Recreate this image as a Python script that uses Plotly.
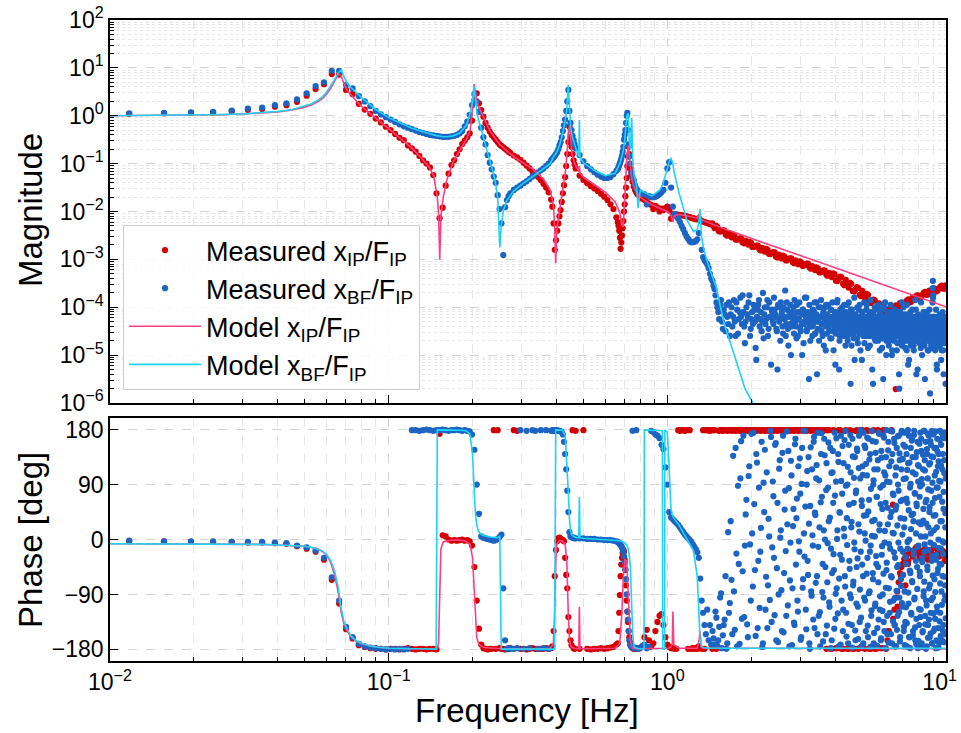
import numpy as np
import plotly.graph_objects as go

# ---------------------------------------------------------------------------
# Measured transfer functions (analyser bins, frequency resolution 1/256 Hz)
# magnitudes are given as log10 values, phases in degrees
# ---------------------------------------------------------------------------
DF_HZ = 1.0 / 256.0

bins_lo = ([3, 4, 5, 6, 7, 8, 9, 10, 11, 12, 13, 14, 15, 16, 17, 18, 19, 20, 21, 22, 23, 24, 25, 26, 27, 28, 29, 30,
            31, 32, 33, 34, 35, 36, 37, 38, 39, 40, 41, 42, 43, 44, 45, 46, 47, 48, 49, 50,
            51, 52, 53, 54, 55, 56, 57, 58, 59, 60, 61, 62, 63, 64, 65, 66, 67, 68, 69, 70]
           + [72, 74, 76, 78, 80, 82, 84, 86, 88, 90, 92, 94, 96, 98]
           + [99, 100, 101, 102, 103, 104, 105, 106, 107, 108, 109, 110, 111, 112, 113, 114, 115, 116, 117, 118, 119, 120]
           + [124, 128, 132, 136, 140, 144, 148, 152, 156, 160, 164, 168]
           + [170, 171, 172, 173, 174, 175, 176, 177, 178, 179, 180, 181, 182, 183, 184, 185, 186, 187, 188]
           + [190, 192, 194, 196, 198, 200]
           + [204, 208, 212, 216, 220, 224, 228, 232, 236, 240, 244, 248, 252, 256, 260, 264, 268, 272, 276, 280,
              284, 288, 292, 296, 300, 304, 308, 312, 316, 320, 324, 328, 332, 336, 340, 344, 348, 352, 356, 360,
              364, 368])

ip_mag_lo = ([0.04, 0.05, 0.06, 0.07, 0.09, 0.12, 0.14, 0.19, 0.22, 0.29, 0.42, 0.56, 0.66, 0.87, 0.86, 0.54, 0.45,
              0.25, 0.13, 0.04, -0.06, -0.14, -0.23, -0.30, -0.38, -0.46, -0.51, -0.62, -0.68, -0.75, -0.84, -0.93,
              -1.0, -1.08, -1.24, -1.62, -2.14, -1.92, -1.46, -1.21, -1.03, -0.93, -0.80, -0.70, -0.59, -0.52, -0.45,
              -0.37, -0.10, 0.33, 0.47, 0.26, 0.12, -0.02, -0.15, -0.25, -0.33, -0.40, -0.45, -0.50, -0.55, -0.60,
              -0.63, -0.66, -0.69, -0.72, -0.75, -0.78]
             + [-0.83, -0.87, -0.92, -0.98, -1.04, -1.10, -1.16, -1.22, -1.28, -1.34, -1.42, -1.50, -1.60, -1.75]
             + [-1.9, -2.25, -2.8, -2.6, -2.4, -2.25, -2.1, -1.97, -1.8, -1.62, -1.45, -1.28, -1.05, -0.8, -0.55,
                -0.23, -0.44, -0.65, -0.8, -0.93, -1.02, -1.1]
             + [-1.25, -1.34, -1.41, -1.47, -1.52, -1.57, -1.63, -1.69, -1.76, -1.85, -1.95, -2.12]
             + [-2.22, -2.3, -2.4, -2.55, -2.78, -2.65, -2.5, -2.35, -2.2, -2.0, -1.85, -1.68, -1.5, -1.3, -1.05,
                -0.85, -0.65, -0.8, -1.1]
             + [-1.25, -1.38, -1.48, -1.55, -1.6, -1.64]
             + [-1.70, -1.73, -1.76, -1.80, -1.84, -1.86, -1.95, -1.88, -1.92, -2.0, -1.94, -1.97, -1.93, -1.90,
                -1.98, -2.15, -2.05, -2.06, -2.06, -2.07, -2.07, -2.08, -2.08, -2.09, -2.1, -2.11, -2.12, -2.13,
                -2.14, -2.15, -2.16, -2.16, -2.14, -2.18, -2.2, -2.21, -2.22, -2.23, -2.24, -2.25, -2.26, -2.27])

ip_ph_lo = ([-3, -3, -4, -4, -4, -5, -5, -6, -7, -11, -15, -20, -33, -66, -105, -147, -162, -173, -176, -178, -179,
             -179, -180, -179, -179, -180, -179, -178,
             -179, -180, -179, -179, -180, -179, -179, -180,
             173, 7, 5, 0, -2, -1, -2, -1, 0, -2, -1, -3,
             -10, -45, -100, -146, -172, -178, -179, -180, -179, -179, 179, -179, 179, -178, -179, -179, -180,
             -179, -179, -178]
            + [179, 178, -179, -179, -180, -179, -178, -179, -179, -179, -179, -178, -179, -178]
            + [-175, -150, -60, -17, -3, 2, 3, 1, 0, -1, -3, -30, -58, -80, -127, -150, -165, -173, 179, -178,
               -179, 178]
            + [-179, 179, -179, -180, -179, -179, -178, -179, -178, -177, -176, -172]
            + [-170, -150, -120, -91, -60, -41, -30, -22, -17, -20, -33, -50, -75, -100, -118, -135, -150, -160,
               -168]
            + [-175, -178, -179, -179, -178, -179]
            + [-178, -175, -160, -148, -165, -175, -170, -150, -135, -125, -122, -140, -160, -172, -176, -178,
               -178, -179, -179, 179, 178, 179, 179, 178, 179, -179, 179, -179, -178, -179, -178, -179, -175,
               -178, -179, 179, -179, 179, 179, 179, 178, 179])

bf_mag_lo = ([0.05, 0.06, 0.07, 0.08, 0.11, 0.15, 0.17, 0.22, 0.26, 0.34, 0.47, 0.62, 0.70, 0.94, 0.94, 0.64, 0.57,
              0.41, 0.30, 0.20, 0.10, 0.03, -0.03, -0.08, -0.13, -0.18, -0.22, -0.25, -0.28, -0.31, -0.34, -0.36,
              -0.38, -0.40, -0.41, -0.42, -0.43, -0.44, -0.44, -0.44, -0.43, -0.42, -0.40, -0.37, -0.32, -0.22,
              -0.12, 0.02, 0.22, 0.45, 0.30, 0.08, -0.25, -0.45, -0.6, -0.82, -0.98, -1.12, -1.27, -1.40, -1.66,
              -1.95, -2.25, -2.91, -1.91, -1.76, -1.68, -1.62]
             + [-1.55, -1.50, -1.46, -1.41, -1.37, -1.32, -1.27, -1.22, -1.18, -1.14, -1.10, -1.05, -1.0, -0.93]
             + [-0.9, -0.87, -0.84, -0.8, -0.76, -0.7, -0.62, -0.55, -0.45, -0.32, -0.2, -0.08, 0.1, 0.3, 0.54,
                0.1, -0.15, -0.3, -0.42, -0.51, -0.6, -0.68]
             + [-0.82, -0.95, -1.05, -1.12, -1.18, -1.23, -1.27, -1.30, -1.30, -1.28, -1.22, -1.15]
             + [-1.12, -1.08, -1.04, -1.0, -0.95, -0.9, -0.84, -0.75, -0.65, -0.5, -0.4, -0.3, -0.15, 0.0, 0.06,
                -0.3, -0.6, -0.85, -1.0]
             + [-1.18, -1.28, -1.35, -1.45, -1.52, -1.56]
             + [-1.6, -1.63, -1.64, -1.85, -1.68, -1.70, -1.70, -1.69, -1.67, -1.64, -1.6, -1.55, -1.4, -1.1,
                -0.97, -1.5, -1.9, -2.05, -2.1, -2.15, -2.22, -2.3, -2.37, -2.45, -2.52, -2.57, -2.62, -2.64,
                -2.64, -2.63, -2.62, -2.58, -2.45, -2.2, -2.8, -2.95, -3.02, -3.06, -3.1, -3.18, -3.3, -3.4])

bf_ph_lo = ([-2, -3, -3, -3, -4, -4, -4, -5, -6, -10, -13, -18, -30, -62, -100, -143, -160, -171, -175, -177, -178,
             -179, -180, -179, -180, -179, -180, -179,
             179, 179, 178, 179, 180, 179, 178, 179, 179, 180, 179, 178, 179, 179, 180, 179, 178, 179, 178, 177,
             172, 147, 90, 42, 5, 3, 2, 1, 0, -1, -2, -1, 1, 4, 8, -80, -165, -179, -178, -179]
            + [-179, -178, 179, -179, 178, -178, 179, 178, -179, 179, -178, 179, -179, 178]
            + [179, 178, 179, 178, 179, 178, 178, 177, 176, 172, 160, 140, 115, 80, 45, 12, 5, 4, 3, 3, 2, 2]
            + [2, 2, 1, 1, 1, 0, 0, -1, -1, -1, -2, -3]
            + [-4, -5, -6, -7, -9, -11, -13, -16, -20, -28, -38, -49, -65, -90, -118, -131, -150, -165, -172]
            + [-176, 178, -178, -177, 179, -179]
            + [-178, -175, -172, -178, -176, 178, 176, 172, 170, 166, 155, 148, 118, 90, 45, 36, 33, 30, 27, 24,
               20, 16, 12, 8, 5, 2, -1, -4, -8, -12, -16, -21, -30, -64, -100, -120, -140, -155, -115, -165,
               -140, -172])

# high-frequency part of the measured x_BF/F_IP (noise floor): two interleaved sets of bins
bins_hi = [372, 378, 384, 390, 396, 402, 408, 414, 420, 426, 432, 438, 444, 450, 456, 462, 468, 474, 480, 486,
           492, 498, 504, 510, 516, 522, 528, 534, 540, 546, 552, 558, 564, 570, 576, 582, 588, 594, 600, 606,
           612, 618, 624, 630, 636, 642, 648, 654, 660, 666, 672, 678, 684, 690, 696, 702, 708, 714, 720, 726,
           732, 738, 744, 750, 756, 762, 768, 774, 780, 786, 792, 798, 804, 810, 816, 822, 828, 834, 840, 846,
           852, 858, 864, 870, 876, 882, 888, 894, 900, 906, 912, 918, 924, 930, 936, 942, 948, 954, 960, 966,
           972, 978, 984, 990, 996, 1002, 1008, 1014, 1020, 1026, 1032, 1038, 1044, 1050, 1056, 1062, 1068, 1074, 1080, 1086,
           1092, 1098, 1104, 1110, 1116, 1122, 1128, 1134, 1140, 1146, 1152, 1158, 1164, 1170, 1176, 1182, 1188, 1194, 1200, 1206,
           1212, 1218, 1224, 1230, 1236, 1242, 1248, 1254, 1260, 1266, 1272, 1278, 1284, 1290, 1296, 1302, 1308, 1314, 1320, 1326,
           1332, 1338, 1344, 1350, 1356, 1362, 1368, 1374, 1380, 1386, 1392, 1398, 1404, 1410, 1416, 1422, 1428, 1434, 1440, 1446,
           1452, 1458, 1464, 1470, 1476, 1482, 1488, 1494, 1500, 1506, 1512, 1518, 1524, 1530, 1536, 1542, 1548, 1554, 1560, 1566,
           1572, 1578, 1584, 1590, 1596, 1602, 1608, 1614, 1620, 1626, 1632, 1638, 1644, 1650, 1656, 1662, 1668, 1674, 1680, 1686,
           1692, 1698, 1704, 1710, 1716, 1722, 1728, 1734, 1740, 1746, 1752, 1758, 1764, 1770, 1776, 1782, 1788, 1794, 1800, 1806,
           1812, 1818, 1824, 1830, 1836, 1842, 1848, 1854, 1860, 1866, 1872, 1878, 1884, 1890, 1896, 1902, 1908, 1914, 1920, 1926,
           1932, 1938, 1944, 1950, 1956, 1962, 1968, 1974, 1980, 1986, 1992, 1998, 2004, 2010, 2016, 2022, 2028, 2034, 2040, 2046,
           2052, 2058, 2064, 2070, 2076, 2082, 2088, 2094, 2100, 2106, 2112, 2118, 2124, 2130, 2136, 2142, 2148, 2154, 2160, 2166,
           2172, 2178, 2184, 2190, 2196, 2202, 2208, 2214, 2220, 2226, 2232, 2238, 2244, 2250, 2256, 2262, 2268, 2274, 2280, 2286,
           2292, 2298, 2304, 2310, 2316, 2322, 2328, 2334, 2340, 2346, 2352, 2358, 2364, 2370, 2376, 2382, 2388, 2394, 2400, 2406,
           2412, 2418, 2424, 2430, 2436, 2442, 2448, 2454, 2460, 2466, 2472, 2478, 2484, 2490, 2496, 2502, 2508, 2514, 2520, 2526,
           2532, 2538, 2544, 2550, 2556]

bf_mag_hi = [-3.45, -3.62, -3.9, -4.1, -3.95, -4.3, -4.05, -4.5, -4.2, -3.9, -4.15, -4.4, -3.85, -4.6, -4.05, -4.25, -3.8, -4.35, -4.1, -4.75,
             -4.0, -4.2, -3.75, -4.45, -4.1, -3.95, -4.3, -5.1, -4.05, -3.85, -4.25, -4.5, -3.7, -4.15, -4.35, -4.0, -4.6, -3.9, -4.2, -4.05,
             -4.3, -3.8, -4.15, -4.45, -5.3, -4.0, -4.25, -3.9, -4.1, -4.55, -4.2, -3.65, -4.35, -4.05, -4.8, -4.15, -3.95, -4.4, -4.2, -4.0,
             -3.85, -4.3, -4.65, -4.1, -4.25, -3.9, -4.45, -4.15, -5.0, -4.05, -4.35, -3.8, -4.2, -4.5, -4.1, -4.3, -3.95, -4.7, -4.2, -4.4,
             -4.05, -4.25, -3.9, -4.55, -4.15, -5.4, -4.3, -4.0, -4.45, -4.2, -3.85, -4.35, -4.6, -4.1, -4.25, -4.0, -4.9, -4.3, -4.15, -3.95,
             -4.4, -4.2, -4.65, -4.05, -4.3, -3.9, -4.5, -4.25, -4.1, -5.2, -4.35, -4.15, -3.85, -4.45, -4.3, -4.7, -4.05, -4.2, -4.55, -4.0,
             -4.3, -4.45, -3.95, -4.2, -4.8, -4.1, -4.35, -4.6, -4.15, -3.9, -4.4, -4.25, -5.6, -4.3, -4.05, -4.5, -4.2, -4.65, -3.8, -4.35,
             -4.15, -4.5, -4.3, -4.0, -4.75, -4.25, -4.4, -3.95, -4.55, -4.2, -4.35, -5.1, -4.1, -4.45, -4.3, -3.9, -4.6, -4.25, -4.4, -4.05,
             -4.5, -4.2, -4.85, -4.35, -4.1, -4.6, -4.3, -3.85, -4.45, -4.25, -5.3, -4.4, -4.15, -4.55, -4.3, -4.0, -4.7, -4.35, -4.2, -4.5,
             -4.25, -4.6, -3.95, -4.4, -4.3, -4.9, -4.15, -4.5, -4.35, -4.05, -4.65, -4.3, -5.5, -4.2, -4.45, -4.35, -3.9, -4.55, -4.25, -4.7,
             -4.4, -4.1, -4.6, -4.3, -4.8, -4.2, -4.5, -4.35, -3.95, -4.6, -4.25, -5.0, -4.45, -4.3, -4.15, -4.7, -4.35, -4.5, -4.05, -4.4,
             -4.55, -4.3, -4.9, -4.2, -4.45, -4.35, -4.6, -4.1, -5.7, -4.4, -4.25, -4.65, -4.3, -4.5, -3.9, -4.75, -4.35, -4.2, -4.55, -4.4,
             -4.3, -4.6, -4.15, -4.85, -4.4, -4.25, -4.5, -3.95, -4.7, -4.35, -5.2, -4.45, -4.2, -4.6, -4.3, -4.5, -4.1, -4.8, -4.35, -4.25,
             -4.5, -4.05, -4.65, -4.4, -4.3, -4.9, -4.2, -4.55, -4.35, -3.85, -4.6, -4.45, -5.4, -4.25, -4.5, -4.3, -4.7, -4.15, -4.4, -4.55,
             -4.3, -4.75, -4.2, -4.5, -4.4, -3.9, -4.6, -4.35, -5.0, -4.45, -4.25, -4.65, -4.3, -4.55, -4.1, -4.8, -4.4, -4.2, -4.5, -4.35,
             -4.3, -4.15, -4.1, -4.6, -4.3, -4.9, -4.2, -4.45, -4.35, -4.7, -4.05, -4.5, -5.8, -4.3, -4.55, -4.2, -4.65, -4.4, -4.25, -4.85,
             -3.9, -3.45, -3.75, -4.45, -4.3, -4.75, -4.2, -4.55, -4.9, -4.35, -4.5, -4.05, -4.65, -4.3, -5.3, -4.45, -4.2, -4.6, -4.4, -4.25,
             -4.7, -4.35, -4.5, -4.15, -4.8, -4.3, -4.6, -4.4, -5.1, -4.25, -4.55, -4.35, -4.7, -4.1, -4.5, -4.9, -4.3, -4.45, -4.6, -4.2,
             -4.4, -4.75, -4.3, -5.6, -4.5]

bf_ph_hi = [-150, -172, -128, -165, -95, -178, -140, -60, -170, -120, 30, -155, -85, 150, -175, -40, 100, -130, 170, -10,
            65, -160, 120, -100, 10, 175, -50, 140, -145, 85, -20, 160, -170, 45, -115, 110, -75, 5, 178, -135,
            95, -30, 155, -165, 60, -90, 130, 15, -150, 170, -55, 80, -125, 25, 145, -175, -5, 105, -80, 50,
            -140, 165, 35, -100, 120, -20, 75, -160, 150, -65, 10, 178, -115, 90, -35, 135, -170, 55, -85, 115,
            -10, 160, -145, 40, 100, -60, 175, -125, 20, -175, 140, 70, -40, -95, 165, 0, -155, 125, -70, 85,
            30, -110, 150, -15, -165, 110, 60, -50, 175, -130, 95, -80, 15, 140, -175, 45, -25, 170, -100, 75,
            -150, 125, 5, -60, 178, -120, 35, 90, -170, 155, -35, -90, 110, 20, -140, 165, -75, 60, -5, 135,
            -165, 80, -45, 145, -110, 25, 170, -135, 100, -20, -175, 55, 120, -60, 175, -95, 10, 150, -150, 40,
            105, -30, -160, 165, 65, -85, 140, -10, -125, 178, 30, -55, 90, -170, 115, 5, -105, 160, -40, 70,
            -145, 130, -70, 175, 15, -115, 85, -165, 145, -25, 50, -90, 170, -135, 110, -5, -178, 60, 135, -50,
            95, -155, 25, 160, -80, 120, -120, -15, 178, -60, 45, -170, 140, 75, -100, 10, 165, -140, -30, 105,
            -175, 55, 150, -45, -125, 90, -5, 170, -95, 130, -160, 35, -65, 115, 178, -110, 65, -20, 155, -150,
            20, -85, 175, -135, 100, -40, 140, -175, 60, -15, 125, -105, 170, 0, -160, 85, -55, 150, -120, 40,
            165, -70, 110, -150, 30, -25, 178, -95, 75, -165, 135, 10, -130, 55, -45, 160, -178, 95, -10, 120,
            -140, 70, -60, 175, -115, 25, 145, -170, 90, -30, -150, 115, 50, -85, 178, -20, 130, -125, 5, 160,
            -100, 65, -175, 140, -50, 100, -140, 20, 170, -80, 45, -160, 125, -5, -120, 155, 80, -35, 178, -170,
            60, -95, 135, -150, 15, 175, -65, 105, -130, 40, -178, 150, -25, 85, -110, 165, -55, 120, -145, 0,
            140, -170, 70, -40, 178, -120, 95, -15, 155, -85, 30, -165, 115, -60, 170, -140, 50, -5, 130, -100,
            175, -75, 20, -155, 100]

bins_hi_b = [375, 381, 387, 393, 399, 405, 411, 417, 423, 429, 435, 441, 447, 453, 459, 465, 471, 477, 483, 489,
             495, 501, 507, 513, 519, 525, 531, 537, 543, 549, 555, 561, 567, 573, 579, 585, 591, 597, 603, 609,
             615, 621, 627, 633, 639, 645, 651, 657, 663, 669, 675, 681, 687, 693, 699, 705, 711, 717, 723, 729,
             735, 741, 747, 753, 759, 765, 771, 777, 783, 789, 795, 801, 807, 813, 819, 825, 831, 837, 843, 849,
             855, 861, 867, 873, 879, 885, 891, 897, 903, 909, 915, 921, 927, 933, 939, 945, 951, 957, 963, 969,
             975, 981, 987, 993, 999, 1005, 1011, 1017, 1023, 1029, 1035, 1041, 1047, 1053, 1059, 1065, 1071, 1077, 1083, 1089,
             1095, 1101, 1107, 1113, 1119, 1125, 1131, 1137, 1143, 1149, 1155, 1161, 1167, 1173, 1179, 1185, 1191, 1197, 1203, 1209,
             1215, 1221, 1227, 1233, 1239, 1245, 1251, 1257, 1263, 1269, 1275, 1281, 1287, 1293, 1299, 1305, 1311, 1317, 1323, 1329,
             1335, 1341, 1347, 1353, 1359, 1365, 1371, 1377, 1383, 1389, 1395, 1401, 1407, 1413, 1419, 1425, 1431, 1437, 1443, 1449,
             1455, 1461, 1467, 1473, 1479, 1485, 1491, 1497, 1503, 1509, 1515, 1521, 1527, 1533, 1539, 1545, 1551, 1557, 1563, 1569,
             1575, 1581, 1587, 1593, 1599, 1605, 1611, 1617, 1623, 1629, 1635, 1641, 1647, 1653, 1659, 1665, 1671, 1677, 1683, 1689,
             1695, 1701, 1707, 1713, 1719, 1725, 1731, 1737, 1743, 1749, 1755, 1761, 1767, 1773, 1779, 1785, 1791, 1797, 1803, 1809,
             1815, 1821, 1827, 1833, 1839, 1845, 1851, 1857, 1863, 1869, 1875, 1881, 1887, 1893, 1899, 1905, 1911, 1917, 1923, 1929,
             1935, 1941, 1947, 1953, 1959, 1965, 1971, 1977, 1983, 1989, 1995, 2001, 2007, 2013, 2019, 2025, 2031, 2037, 2043, 2049,
             2055, 2061, 2067, 2073, 2079, 2085, 2091, 2097, 2103, 2109, 2115, 2121, 2127, 2133, 2139, 2145, 2151, 2157, 2163, 2169,
             2175, 2181, 2187, 2193, 2199, 2205, 2211, 2217, 2223, 2229, 2235, 2241, 2247, 2253, 2259, 2265, 2271, 2277, 2283, 2289,
             2295, 2301, 2307, 2313, 2319, 2325, 2331, 2337, 2343, 2349, 2355, 2361, 2367, 2373, 2379, 2385, 2391, 2397, 2403, 2409,
             2415, 2421, 2427, 2433, 2439, 2445, 2451, 2457, 2463, 2469, 2475, 2481, 2487, 2493, 2499, 2505, 2511, 2517, 2523, 2529,
             2535, 2541, 2547, 2553]

bf_mag_hi_b = [-3.55, -3.75, -4.0, -4.25, -3.85, -4.45, -4.15, -3.95, -4.35, -4.6, -4.0, -4.2, -4.3, -3.9, -4.55, -4.1, -4.2, -3.75, -4.4, -4.3,
               -4.15, -3.9, -4.6, -4.25, -4.35, -4.05, -4.85, -4.2, -3.95, -4.4, -4.1, -4.3, -4.65, -4.0, -4.25, -3.85, -4.45, -4.2, -5.2, -4.1,
               -4.35, -4.05, -4.2, -4.5, -3.95, -4.3, -4.7, -4.15, -4.4, -4.0, -4.25, -4.6, -3.9, -4.45, -4.2, -4.35, -5.0, -4.1, -4.3, -4.55,
               -4.2, -4.4, -3.95, -4.6, -4.25, -4.1, -4.5, -4.35, -4.05, -4.75, -4.3, -4.15, -3.8, -4.45, -4.25, -5.5, -4.4, -4.1, -4.3, -4.6,
               -4.35, -4.1, -4.55, -4.25, -3.9, -4.45, -4.3, -4.7, -4.2, -4.0, -4.5, -4.35, -4.15, -4.8, -4.25, -4.4, -3.95, -4.55, -4.3, -4.2,
               -4.5, -4.25, -4.05, -4.65, -4.35, -4.2, -4.9, -4.4, -4.1, -4.55, -4.3, -3.9, -4.45, -4.25, -5.3, -4.6, -4.35, -4.15, -4.5, -4.3,
               -4.25, -4.6, -4.4, -4.1, -4.5, -4.3, -3.95, -4.7, -4.35, -4.2, -4.55, -4.45, -4.05, -4.8, -4.3, -4.15, -4.6, -4.4, -5.1, -4.25,
               -4.45, -4.3, -4.65, -4.2, -4.4, -4.05, -4.55, -4.35, -4.9, -4.25, -4.5, -4.1, -4.4, -4.6, -4.3, -4.75, -4.2, -4.45, -4.35, -3.95,
               -4.6, -4.35, -4.2, -4.5, -4.4, -4.8, -4.25, -4.55, -4.1, -4.45, -4.3, -5.6, -4.5, -4.35, -4.65, -4.2, -4.4, -4.05, -4.55, -4.3,
               -4.4, -4.7, -4.25, -4.5, -4.35, -4.15, -4.6, -4.45, -4.3, -4.85, -4.2, -4.5, -4.4, -4.0, -4.65, -4.35, -4.25, -4.55, -5.0, -4.4,
               -4.3, -4.55, -4.45, -4.2, -4.7, -4.35, -4.5, -4.1, -4.6, -4.4, -4.3, -4.9, -4.25, -4.55, -4.45, -4.15, -4.65, -4.35, -4.5, -4.2,
               -4.45, -4.6, -4.3, -4.75, -4.4, -4.2, -4.55, -5.4, -4.35, -4.5, -4.1, -4.65, -4.4, -4.3, -4.8, -4.25, -4.5, -4.45, -4.0, -4.6,
               -4.35, -4.5, -4.7, -4.25, -4.45, -4.4, -4.9, -4.3, -4.6, -4.15, -4.5, -4.35, -5.1, -4.45, -4.25, -4.65, -4.4, -4.55, -4.3, -4.7,
               -4.4, -4.25, -4.55, -4.45, -4.8, -4.3, -4.6, -4.2, -4.5, -4.4, -4.05, -4.7, -4.35, -4.55, -4.45, -5.3, -4.3, -4.6, -4.25, -4.5,
               -4.45, -4.6, -4.3, -4.5, -4.85, -4.35, -4.2, -4.55, -4.4, -4.65, -4.3, -4.5, -4.1, -4.75, -4.45, -4.35, -5.5, -4.5, -4.25, -4.6,
               -4.35, -4.55, -4.4, -4.7, -4.25, -4.5, -4.45, -4.9, -4.3, -4.6, -4.4, -4.2, -4.65, -4.5, -4.35, -4.8, -4.45, -4.3, -4.55, -4.4,
               -3.6, -3.8, -4.2, -4.55, -4.4, -4.7, -4.3, -4.5, -4.6, -4.25, -4.85, -4.45, -4.35, -5.2, -4.5, -4.4, -4.65, -4.3, -4.55, -4.45,
               -4.6, -4.4, -4.75, -4.3, -4.5, -4.55, -4.2, -4.65, -4.45, -4.9, -4.35, -4.6, -4.5, -4.25, -4.7, -4.4, -5.4, -4.55, -4.35, -4.5,
               -4.45, -4.7, -4.3, -4.6]

bf_ph_hi_b = [-162, -118, -174, -143, -88, -157, -131, -179, 12, -104, -66, 137, -148, -23, 88, -171, 161, -52, -127, 41,
              -139, 104, -8, 173, -77, 58, -158, 126, -35, -112, 19, -176, 93, 147, -61, -145, 34, -99, 168, -13,
              71, -124, 158, -47, -168, 116, 3, -83, 142, -152, 49, -19, 177, -108, 84, -67, 129, -173, 22, -136,
              156, -41, 67, -118, -3, 133, -164, 91, -79, 178, -28, 54, -147, 112, -58, 26, -179, 151, -92, 7,
              -131, 168, 44, -71, 122, -155, -12, 97, -119, 61, 174, -86, -167, 15, 138, -45, 81, -141, -6, 159,
              -103, 36, -178, 109, -55, 145, -24, -146, 72, -89, 166, 1, -121, 127, -64, 44, -172, 96, -33, 153,
              -115, 18, 163, -77, 88, -159, -9, 119, -138, 57, -48, 171, -96, 29, -177, 136, -69, 101, -16, -149,
              76, -105, 149, -31, -163, 117, 13, -82, 179, -128, 64, -41, 106, -170, 39, 154, -100, -2, 124, -56,
              167, -141, 46, -88, 131, -20, -176, 83, -116, 6, 161, -65, 97, -153, 32, -109, 142, -27, 70, -174,
              115, -45, -131, 173, 25, -93, 58, -162, 134, -11, -117, 89, -56, 167, -150, 14, 105, -79, 179, -38,
              -125, 52, 146, -169, -7, 94, -102, 37, -155, 128, -62, 177, 11, -134, 73, -21, 158, -96, -175, 49,
              118, -84, -148, 23, 169, -42, 80, -119, 141, -167, -15, 63, -76, 175, -104, 8, 132, -58, 99, -143,
              34, -173, 152, -29, -111, 67, -137, 114, -4, 179, -87, 48, -160, 126, -51, -178, 91, 17, -123, 162,
              -68, 135, -157, 42, -19, 171, -98, 76, -144, 107, -35, -171, 59, 143, -81, -12, 122, -166, 28, -114,
              157, -53, 87, -127, 5, 165, -176, 99, -37, -152, 139, 31, -93, 178, -69, -8, 113, -139, 61, -179,
              26, -108, 148, -44, 174, -161, 82, -17, -131, 123, 53, -74, 161, -154, 10, -99, 136, -27, -170, 93,
              -59, 172, -121, 39, -9, 150, -146, 68, -86, 177, -33, 111, -165, 20, -118, 144, 85, -48, -177, 128,
              -14, 96, -134, 163, -72, 30, -158, 121, -41, 175, -107, 62, -3, -149, 140, -24, 78, -168, 109, -61,
              166, -92, 43, -129]

# high-frequency part of the measured x_IP/F_IP (Hz), log10 magnitude, phase
f_ip_hi = [1.45, 1.48, 1.51, 1.55, 1.58, 1.62, 1.66, 1.70, 1.74, 1.78, 1.82, 1.86, 1.91, 1.95, 2.00, 2.04, 2.09,
           2.14, 2.19, 2.24, 2.29, 2.34, 2.40, 2.45, 2.51, 2.57, 2.63, 2.69, 2.75, 2.82, 2.88, 2.95, 3.02, 3.09,
           3.16, 3.24, 3.31, 3.39, 3.47, 3.55, 3.63, 3.72, 3.80, 3.89, 3.98, 4.07, 4.17, 4.27, 4.37, 4.47, 4.57,
           4.68, 4.79, 4.90, 5.01, 5.13, 5.25, 5.37, 5.50, 5.62, 5.75, 5.89, 6.03, 6.17, 6.31, 6.46, 6.61, 6.76,
           6.92, 7.08, 7.24, 7.41, 7.59, 7.76, 7.94, 8.13, 8.32, 8.51, 8.71, 8.91, 9.12, 9.33, 9.55, 9.77, 9.98,
           6.45, 6.6, 6.2, 6.7, 6.9, 7.3, 7.15, 6.55]
ip_mag_hi = [-2.25, -2.35, -2.32, -2.42, -2.39, -2.48, -2.45, -2.54, -2.50, -2.59,
             -2.56, -2.64, -2.61, -2.69, -2.66, -2.74, -2.71, -2.79, -2.76, -2.84,
             -2.80, -2.89, -2.85, -2.94, -2.90, -2.98, -2.94, -3.02, -2.98, -3.06,
             -3.02, -3.10, -3.06, -3.13, -3.09, -3.17, -3.14, -3.22, -3.19, -3.27,
             -3.23, -3.32, -3.28, -3.37, -3.31, -3.45, -3.36, -3.51, -3.43, -3.59,
             -3.51, -3.67, -3.58, -3.74, -3.66, -3.82, -3.74, -3.91, -3.84, -4.00,
             -3.92, -4.09, -4.02, -4.13, -4.02, -4.08, -3.96, -4.02, -3.91, -3.96,
             -3.86, -3.90, -3.80, -3.84, -3.75, -3.79, -3.70, -3.74, -3.65, -3.69,
             -3.61, -3.65, -3.57, -3.61, -3.54,
             -4.03, -5.71, -4.1, -4.0, -3.95, -3.88, -3.9, -4.05]
ip_ph_hi = [-179, 179, -178, 179, 178, 179, 179, 178, 179, 179,
            178, 179, 179, 178, 179, 179, 178, 179, 179, 178,
            179, 179, 178, 179, 179, 178, 179, 179, 178, 179,
            179, 178, 179, 179, 178, 179, 179, 178, 179, 179,
            178, -179, 179, -179, 178, -178, 179, -179, 179, -179,
            178, -179, 179, -178, 179, -179, 178, -179, 179, -179,
            178, -178, 179, -165, 178, -130, -95, -70, -45, -32,
            -25, -18, -28, -15, -22, -18, -27, -20, -24, -16,
            -30, -22, -26, -19, -30,
            57, -175, -150, -110, -60, -40, -75, -140]

f_ip_hi_b = [1.462, 1.496, 1.531, 1.567, 1.603, 1.641, 1.679, 1.718, 1.758, 1.799,
             1.841, 1.884, 1.928, 1.972, 2.018, 2.065, 2.113, 2.163, 2.213, 2.265,
             2.317, 2.371, 2.427, 2.483, 2.541, 2.600, 2.661, 2.723, 2.786, 2.851,
             2.917, 2.985, 3.055, 3.126, 3.199, 3.273, 3.350, 3.428, 3.508, 3.589,
             3.673, 3.758, 3.846, 3.936, 4.027, 4.121, 4.217, 4.315, 4.416, 4.519,
             4.624, 4.732, 4.842, 4.955, 5.070, 5.188, 5.309, 5.433, 5.559, 5.689,
             5.821, 5.957, 6.095, 6.237, 6.383, 6.531, 6.683, 6.839, 6.998, 7.161,
             7.328, 7.499, 7.674, 7.852, 8.035, 8.222, 8.414, 8.610, 8.810, 9.016,
             9.226, 9.441, 9.661, 9.886]
ip_mag_hi_b = [-2.30, -2.30, -2.41, -2.405, -2.40, -2.505, -2.495, -2.48, -2.585, -2.575,
               -2.56, -2.665, -2.65, -2.635, -2.74, -2.725, -2.71, -2.815, -2.80, -2.78,
               -2.885, -2.87, -2.855, -2.96, -2.94, -2.92, -3.02, -3.00, -2.98, -3.08,
               -3.06, -3.04, -3.135, -3.11, -3.09, -3.195, -3.18, -3.165, -3.27, -3.25,
               -3.235, -3.34, -3.325, -3.29, -3.445, -3.405, -3.375, -3.54, -3.51, -3.49,
               -3.66, -3.625, -3.60, -3.77, -3.74, -3.72, -3.895, -3.875, -3.86, -4.03,
               -4.005, -3.995, -4.155, -4.075, -3.985, -4.075, -3.985, -3.915, -3.97, -3.905,
               -3.835, -3.885, -3.82, -3.755, -3.81, -3.745, -3.68, -3.735, -3.67, -3.61,
               -3.67, -3.61, -3.55, -3.61]
ip_ph_hi_b = [179, -179, 178, 179, 179, 178, 179, 179, 178, 179,
              179, 178, 179, 179, 178, 179, 179, 178, 179, 179,
              178, 179, 179, 178, 179, 179, 178, 179, 179, 178,
              179, 179, 178, 179, 179, 178, 179, 179, 178, 179,
              179, 179, -179, 179, -178, 179, -179, 178, -179, 179,
              -179, 178, -179, 179, -178, 179, -179, 178, -179, 179,
              -178, 179, -179, -150, 179, -115, -85, -55, -40, -28,
              -35, -20, -25, -12, -30, -21, -15, -33, -19, -25,
              -14, -28, -22, -35]

# ---------------------------------------------------------------------------
# Models (Hz, log10 magnitude, phase in degrees)
# ---------------------------------------------------------------------------
f_model = [0.01, 0.015, 0.02, 0.025, 0.03, 0.035, 0.04, 0.045, 0.05, 0.053,
           0.056, 0.058, 0.06, 0.062, 0.064, 0.066, 0.0675, 0.069, 0.071, 0.073,
           0.076, 0.08, 0.085, 0.09, 0.1, 0.11, 0.12, 0.13, 0.14, 0.145,
           0.148, 0.1495, 0.151, 0.1525, 0.154, 0.157, 0.162, 0.17, 0.18, 0.19,
           0.196, 0.2, 0.2025, 0.2045, 0.207, 0.21, 0.215, 0.22, 0.23, 0.24,
           0.246, 0.2505, 0.2535, 0.258, 0.265, 0.28, 0.3, 0.33, 0.36, 0.38,
           0.39, 0.394, 0.3975, 0.401, 0.41, 0.42, 0.43, 0.436, 0.441, 0.446,
           0.45, 0.455, 0.465, 0.475, 0.481, 0.4835, 0.486, 0.5, 0.55, 0.6,
           0.65, 0.675, 0.687, 0.695, 0.705, 0.715, 0.724, 0.73, 0.737, 0.745,
           0.752, 0.76, 0.775, 0.785, 0.8, 0.825, 0.827, 0.88, 0.94, 0.96,
           0.962, 0.978, 0.98, 1.0, 1.01, 1.02, 1.03, 1.042, 1.047, 1.055,
           1.1, 1.17, 1.24, 1.28, 1.3, 1.31, 1.325, 1.35, 1.4, 1.5,
           1.6, 1.75, 1.9, 2.05, 2.2, 3.0, 5.0, 7.0, 10.0]
ip_mod_mag = [0.0, 0.005, 0.01, 0.02, 0.035, 0.055, 0.08, 0.12, 0.18, 0.23,
              0.30, 0.37, 0.46, 0.58, 0.72, 0.87, 0.84, 0.68, 0.53, 0.44,
              0.33, 0.19, 0.06, -0.06, -0.27, -0.47, -0.65, -0.86, -1.08, -1.25,
              -1.5, -1.7, -2.05, -3.0, -2.1, -1.7, -1.32, -0.98, -0.72, -0.5,
              -0.3, 0.15, 0.66, 0.5, 0.32, 0.2, 0.08, -0.05, -0.3, -0.47,
              -0.54, -0.6, -0.63, -0.68, -0.73, -0.85, -0.97, -1.12, -1.33, -1.55,
              -1.85, -2.3, -3.08, -2.4, -2.0, -1.6, -1.2, -0.85, -0.35, -0.2,
              -0.55, -0.8, -1.0, -1.12, -1.17, -1.05, -1.2, -1.28, -1.45, -1.6,
              -1.8, -2.02, -2.25, -2.32, -1.6, -0.9, -0.62, -0.85, -1.1, -1.3,
              -1.42, -1.5, -1.6, -1.65, -1.7, -1.76, -1.76, -1.86, -1.93, -1.95,
              -1.95, -1.97, -1.97, -2.0, -2.02, -2.04, -2.08, -2.16, -2.22, -2.1,
              -2.06, -2.09, -2.12, -2.14, -2.05, -2.08, -2.17, -2.19, -2.23, -2.30,
              -2.36, -2.44, -2.51, -2.58, -2.65, -2.92, -3.37, -3.67, -3.99]
ip_mod_ph = [-7, -7, -7, -7, -8, -8, -9, -10, -11, -13,
             -16, -20, -26, -38, -58, -88, -118, -137, -150, -159,
             -166, -171, -174, -176, -178, -179, -179, -179, -179, -179,
             -179, -179, -170, -100, -15, -4, -2, -1, -1, -3,
             -8, -30, -75, -125, -160, -170, -175, -177, -178, -179,
             -179, -179, -179, -179, -179, -179, -179, -179, -179, -179,
             -170, -120, -40, -8, -2, -2, -8, -40, -120, -165,
             -174, -177, -178, -179, -179, -110, -179, -179, -179, -179,
             -178, -170, -120, -60, -33, -35, -80, -130, -165, -175,
             -178, -179, -179, -179, -179, -179, -179, -179, -179, -179,
             -179, -179, -179, -178, -178, -177, -176, -170, -118, -172,
             -178, -178, -178, -178, -165, -150, -177, -178, -178, -178,
             -178, -178, -178, -178, -178, -179, -179, -179, -179]
bf_mod_mag = [0.0, 0.006, 0.012, 0.025, 0.04, 0.06, 0.09, 0.13, 0.2, 0.25,
              0.33, 0.40, 0.50, 0.62, 0.76, 0.90, 0.96, 0.82, 0.68, 0.60,
              0.50, 0.38, 0.25, 0.13, -0.04, -0.15, -0.25, -0.32, -0.38, -0.40,
              -0.41, -0.42, -0.42, -0.43, -0.43, -0.44, -0.44, -0.42, -0.36, -0.2,
              0.05, 0.3, 0.62, 0.38, 0.1, -0.08, -0.3, -0.5, -0.9, -1.3,
              -1.7, -2.75, -2.3, -1.98, -1.78, -1.58, -1.44, -1.26, -1.1, -1.0,
              -0.86, -0.83, -0.80, -0.76, -0.62, -0.40, -0.10, 0.15, 0.64, 0.10,
              -0.25, -0.42, -0.62, -0.78, -0.85, -0.09, -0.88, -0.98, -1.15, -1.25,
              -1.2, -1.0, -0.85, -0.72, -0.45, 0.0, 0.05, -0.5, -0.7, -0.05,
              -0.95, -1.25, -1.45, -1.93, -1.55, -1.6, -1.6, -1.68, -1.55, -1.45,
              -1.44, -1.3, -1.28, -1.12, -1.0, -0.92, -0.89, -0.95, -1.0, -1.15,
              -1.6, -2.15, -2.42, -2.38, -2.2, -1.95, -2.5, -2.78, -3.1, -3.6,
              -4.35, -5.05, -5.7, -6.05, -6.5, -8.0, -9.5, -10.5, -11.5]
bf_mod_ph = [-7, -7, -7, -7, -8, -8, -9, -10, -11, -13,
             -16, -19, -25, -35, -52, -80, -112, -133, -147, -157,
             -165, -170, -174, -176, -178, -179, -179, -179, -179, -179,
             -179.5, 179.5, 179.5, 179.5, 179.5, 179.5, 179.5, 179.5, 179, 178,
             172, 139, 84, 45, 25, 13, 8, 6, 4, 3,
             3, 5, -179.5, -179.5, -179.5, -179.5, -179.5, -179.5, -179.5, -179.5,
             -179.5, -179.5, 179.5, 179.5, 179.5, 179, 170, 128, 80, 30,
             12, 7, 4, 3, 3, 70, 3, 2, 1, 0,
             -1, -2, -3, -4, -6, -9, -15, -25, -45, -110,
             -160, -176, -178, -179, -179, -179.5, 179.5, 179, 178, 178,
             -179.5, -179.5, 179.5, 176, 139, 84, 51, 40, 38, 35,
             24, 2, -18, -60, -130, -162, -175, -177, -178, -178,
             -178, -178, -178, -178, -178, -178, -178, -178, -178]

# consistency checks
assert len(bins_lo) == len(ip_mag_lo) == len(ip_ph_lo) == len(bf_mag_lo) == len(bf_ph_lo)
assert len(bins_hi) == len(bf_mag_hi) == len(bf_ph_hi)
assert len(bins_hi_b) == len(bf_mag_hi_b) == len(bf_ph_hi_b)
assert len(f_ip_hi) == len(ip_mag_hi) == len(ip_ph_hi)
assert len(f_ip_hi_b) == len(ip_mag_hi_b) == len(ip_ph_hi_b)
assert len(f_model) == len(ip_mod_mag) == len(ip_mod_ph) == len(bf_mod_mag) == len(bf_mod_ph)

# ---------------------------------------------------------------------------
f_lo = np.array(bins_lo) * DF_HZ

f_ip_meas = np.concatenate([f_lo, f_ip_hi, f_ip_hi_b])
ip_mag_meas = 10.0 ** np.concatenate([ip_mag_lo, ip_mag_hi, ip_mag_hi_b])
ip_ph_meas = np.concatenate([ip_ph_lo, ip_ph_hi, ip_ph_hi_b])

f_bf_meas = np.concatenate([f_lo, np.array(bins_hi) * DF_HZ, np.array(bins_hi_b) * DF_HZ])
bf_mag_meas = 10.0 ** np.concatenate([bf_mag_lo, bf_mag_hi, bf_mag_hi_b])
bf_ph_meas = np.concatenate([bf_ph_lo, bf_ph_hi, bf_ph_hi_b])

ip_mod_lin = 10.0 ** np.array(ip_mod_mag)
bf_mod_lin = 10.0 ** np.array(bf_mod_mag)

RED = "#d40000"
BLUE = "#1c63c2"
PINK = "#ff3f7f"
CYAN = "#1cd4f5"
MS = 6.2
LW = 1.6

names = ["Measured x<sub>IP</sub>/F<sub>IP</sub>",
         "Measured x<sub>BF</sub>/F<sub>IP</sub>",
         "Model x<sub>IP</sub>/F<sub>IP</sub>",
         "Model x<sub>BF</sub>/F<sub>IP</sub>"]

fig = go.Figure()
# magnitude panel
fig.add_trace(go.Scatter(x=f_ip_meas, y=ip_mag_meas, mode="markers", name=names[0], legendgroup="a",
                         marker=dict(color=RED, size=MS), xaxis="x", yaxis="y"))
fig.add_trace(go.Scatter(x=f_bf_meas, y=bf_mag_meas, mode="markers", name=names[1], legendgroup="b",
                         marker=dict(color=BLUE, size=MS), xaxis="x", yaxis="y"))
fig.add_trace(go.Scatter(x=f_model, y=ip_mod_lin, mode="lines", name=names[2], legendgroup="c",
                         line=dict(color=PINK, width=LW), xaxis="x", yaxis="y"))
fig.add_trace(go.Scatter(x=f_model, y=bf_mod_lin, mode="lines", name=names[3], legendgroup="d",
                         line=dict(color=CYAN, width=LW), xaxis="x", yaxis="y"))
# phase panel
fig.add_trace(go.Scatter(x=f_ip_meas, y=ip_ph_meas, mode="markers", showlegend=False, legendgroup="a",
                         marker=dict(color=RED, size=MS), xaxis="x2", yaxis="y2"))
fig.add_trace(go.Scatter(x=f_bf_meas, y=bf_ph_meas, mode="markers", showlegend=False, legendgroup="b",
                         marker=dict(color=BLUE, size=MS), xaxis="x2", yaxis="y2"))
fig.add_trace(go.Scatter(x=f_model, y=ip_mod_ph, mode="lines", showlegend=False, legendgroup="c",
                         line=dict(color=PINK, width=LW), xaxis="x2", yaxis="y2"))
fig.add_trace(go.Scatter(x=f_model, y=bf_mod_ph, mode="lines", showlegend=False, legendgroup="d",
                         line=dict(color=CYAN, width=LW), xaxis="x2", yaxis="y2"))

# axis styling ---------------------------------------------------------------
minor_x = [m * 10.0 ** e for e in (-2, -1, 0) for m in range(2, 10)]
minor_y = [m * 10.0 ** e for e in range(-6, 2) for m in range(2, 10)]
xt_vals = [0.01, 0.1, 1, 10]
# the last label sits on the right edge of the page: trailing no-break spaces nudge it inside
xt_text = ["10<sup>\u22122</sup>", "10<sup>\u22121</sup>", "10<sup>0</sup>", "10<sup>1</sup>\u00a0\u00a0"]
yt_vals = [1e-6, 1e-5, 1e-4, 1e-3, 1e-2, 1e-1, 1, 10, 100]
yt_text = ["10<sup>\u22126</sup>", "10<sup>\u22125</sup>", "10<sup>\u22124</sup>", "10<sup>\u22123</sup>",
           "10<sup>\u22122</sup>", "10<sup>\u22121</sup>", "10<sup>0</sup>", "10<sup>1</sup>", "10<sup>2</sup>"]
ph_vals = [-180, -90, 0, 90, 180]
ph_text = ["\u2212180", "\u221290", "0", "90", "180"]

GRID = "#d4d4d4"
GRID_MINOR = "#e6e6e6"


def base_axis():
    return dict(showline=True, linecolor="black", linewidth=1.5, mirror=True, automargin=False,
                ticks="inside", ticklen=8, tickwidth=1.2, tickcolor="black",
                showgrid=True, gridcolor=GRID, gridwidth=1, griddash="dash", zeroline=False,
                tickfont=dict(size=23), ticklabeloverflow="allow")


xa = base_axis()
xa.update(type="log", range=[-2, 1], tickmode="array", tickvals=xt_vals, ticktext=xt_text,
          minor=dict(tickmode="array", tickvals=minor_x, ticks="inside", ticklen=4, tickwidth=1,
                     tickcolor="black", showgrid=True, gridcolor=GRID_MINOR, gridwidth=1, griddash="dash"))
xa1 = dict(xa, anchor="y", showticklabels=False)
xa2 = dict(xa, anchor="y2", matches="x", showticklabels=True)

ya1 = base_axis()
ya1.update(type="log", range=[-6, 2], domain=[0.4025, 1.0], anchor="x", tickmode="array",
           tickvals=yt_vals, ticktext=yt_text,
           minor=dict(tickmode="array", tickvals=minor_y, ticks="inside", ticklen=4, tickwidth=1,
                      tickcolor="black", showgrid=True, gridcolor=GRID_MINOR, gridwidth=1, griddash="dot"))
ya2 = base_axis()
ya2.update(range=[-199, 199], domain=[0.0, 0.3791], anchor="x2", tickmode="array",
           tickvals=ph_vals, ticktext=ph_text)

fig.update_layout(
    width=961, height=733,
    margin=dict(l=110, r=15, t=20, b=72, autoexpand=False),
    plot_bgcolor="white", paper_bgcolor="white",
    font=dict(family="Liberation Sans, Arial, Helvetica, sans-serif", size=23, color="black"),
    xaxis=xa1, xaxis2=xa2, yaxis=ya1, yaxis2=ya2,
    legend=dict(x=0.0156, y=0.6802, xanchor="left", yanchor="top",
                bgcolor="rgba(255,255,255,0.85)", bordercolor="#cfcfcf", borderwidth=1,
                font=dict(size=27, color="black"), tracegroupgap=0, itemwidth=72),
    annotations=[
        dict(text="Magnitude", xref="paper", yref="paper", x=-0.0945, y=0.7036, xanchor="center",
             yanchor="middle", textangle=-90, showarrow=False, font=dict(size=33)),
        dict(text="Phase [deg]", xref="paper", yref="paper", x=-0.0945, y=0.1888, xanchor="center",
             yanchor="middle", textangle=-90, showarrow=False, font=dict(size=33)),
        dict(text="Frequency [Hz]", xref="paper", yref="paper", x=0.4988, y=-0.078, xanchor="center",
             yanchor="middle", showarrow=False, font=dict(size=33)),
    ],
)

# the page's default 8 px body margin would shift the figure; remove it
fig.write_html("out.html", config={"displayModeBar": False},
               post_script="document.body.style.margin='0px';document.body.style.overflow='hidden';")
